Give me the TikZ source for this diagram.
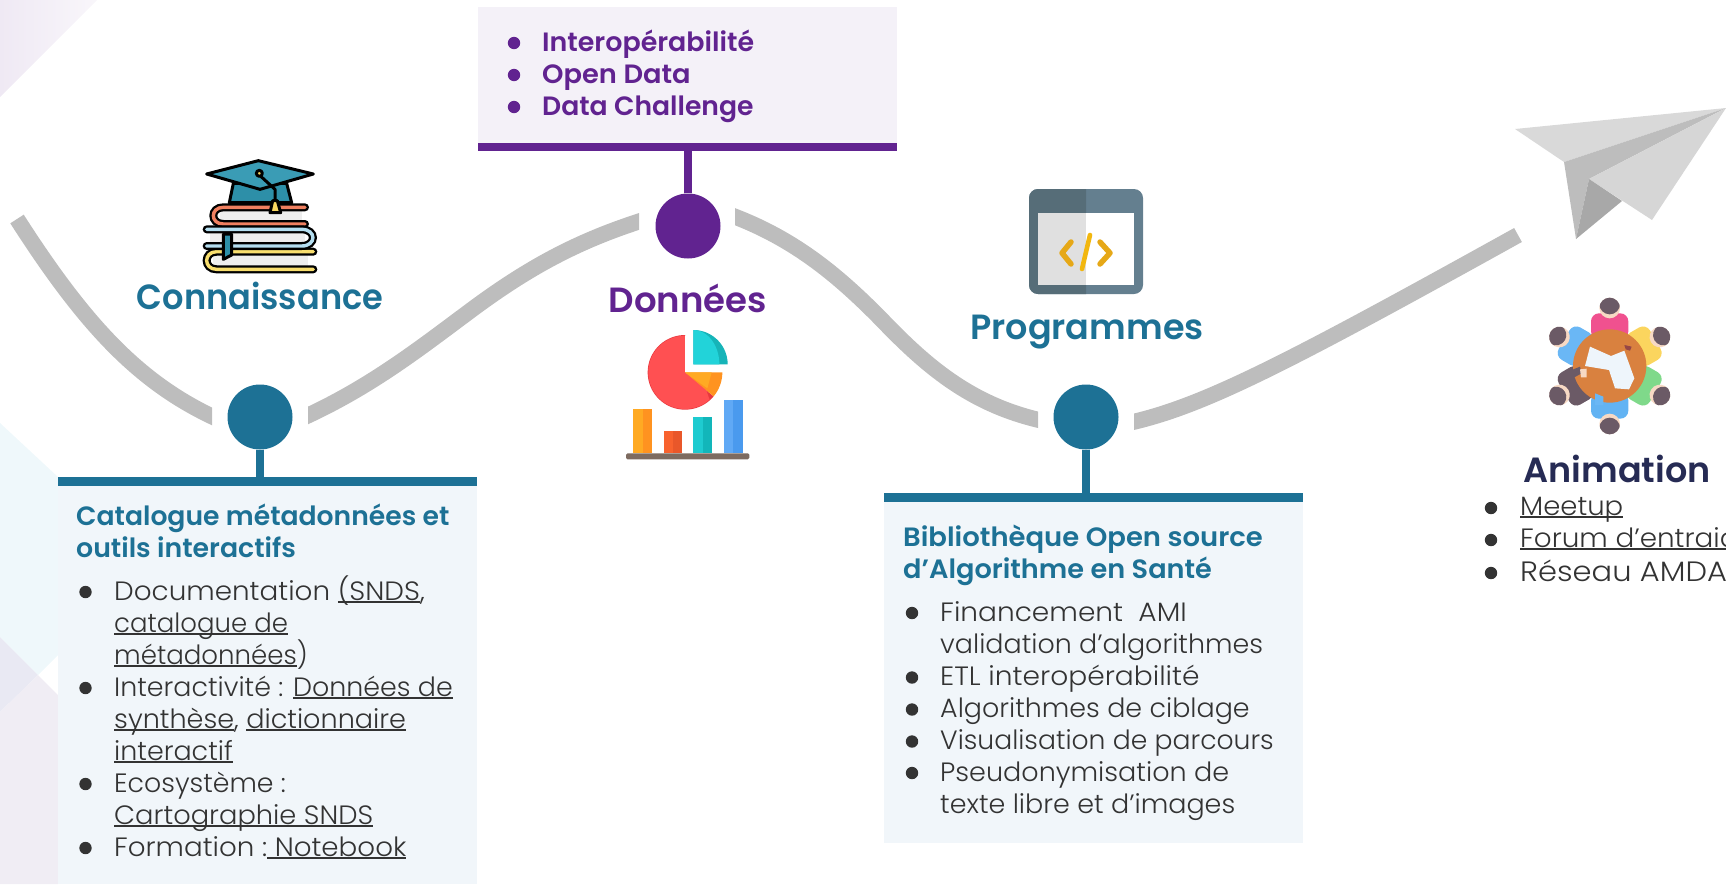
\documentclass[tikz,border=0pt]{standalone}
\usepackage{graphicx}
\usepackage{fontspec}
\setmainfont{Poppins Light}
\newfontfamily\fsemi{Poppins SemiBold}
\definecolor{teal1}{HTML}{1D7195}
\definecolor{purp}{HTML}{612390}
\definecolor{panelB}{HTML}{F1F6FA}
\definecolor{panelP}{HTML}{F4F1F8}
\definecolor{curve}{HTML}{BDBDBD}
\definecolor{txtd}{HTML}{333333}
\definecolor{navy}{HTML}{262B54}
\newcommand\ulk[1]{\setbox0\hbox{#1}\rlap{\raisebox{-3.4pt}{\rule{\wd0}{2.2pt}}}\box0 }
\newcommand\sx[2]{\scalebox{#1}[1]{#2}}
\newcommand\bt[2]{\fill[txtd] (#1,#2) circle (6.2);}
\tikzset{
 dot/.style={circle,fill=#1,minimum size=65,inner sep=0},
 stem/.style={line width=8,draw=#1},
 path1/.style={draw=curve,line width=16},
 body/.style={anchor=base west,inner sep=0,text=txtd,font=\fontsize{26.5}{32}\selectfont},
 subt/.style={anchor=base west,inner sep=0,text=teal1,font=\fontsize{26.5}{32}\fsemi},
 pbul/.style={anchor=base west,inner sep=0,text=purp,font=\fontsize{26.5}{32}\fsemi},
 head/.style={anchor=base,inner sep=0,font=\fontsize{35}{40}\fsemi},
 ol/.style={draw=black,line width=3,line join=round,line cap=round},
 bk/.style={line width=8,line cap=round,draw=black},
 bc/.style={line width=3.4,line cap=round}
}
\begin{document}
\begin{tikzpicture}[x=1pt,y=-1pt]
\useasboundingbox (0,0) rectangle (1726,884);
\clip (0,0) rectangle (1726,884);
% background shapes
\shade[left color=purp!10,right color=purp!4] (0,0) -- (97,0) -- (0,97) -- cycle;
\fill[fill={rgb,255:red,239;green,248;blue,251}] (0,423) -- (58,477) -- (58,655) -- (38,675) -- (0,637) -- cycle;
\fill[fill={rgb,255:red,233;green,233;blue,243}] (0,637) -- (38,675) -- (0,712) -- cycle;
\fill[fill={rgb,255:red,240;green,237;blue,244}] (0,712) -- (38,675) -- (58,695) -- (58,884) -- (0,884) -- cycle;
% panels
\fill[panelB] (58,485) rectangle (477,884);
\fill[teal1] (58,477) rectangle (477,486);
\fill[panelP] (478,7) rectangle (897,143);
\fill[purp] (478,143) rectangle (897,151);
\fill[panelB] (884,502) rectangle (1303,843);
\fill[teal1] (884,493) rectangle (1303,502);
% dots
\node[dot=teal1] (c1) at (260,417) {};
\node[dot=purp] (c2) at (688,226) {};
\node[dot=teal1] (c3) at (1086,417) {};
\coordinate (b1) at (260,477);
\coordinate (b2) at (688,151);
\coordinate (b3) at (1086,493);
\draw[stem=teal1] (c1) -- (b1);
\draw[stem=purp] (c2) -- (b2);
\draw[stem=teal1] (c3) -- (b3);
% curves
\coordinate (s1) at (17,219);
\coordinate (e1) at (222,421);
\begin{scope}
\clip (0,150) rectangle (212,450);
\draw[path1] (s1) .. controls (85,325) and (140,385) .. (e1);
\end{scope}
\coordinate (s2) at (298,420);
\coordinate (m2) at (474,308);
\coordinate (e2) at (650,218);
\begin{scope}
\clip (308,150) rectangle (639,450);
\draw[path1] (s2) .. controls (370,388) and (420,348) .. (m2) .. controls (535,263) and (585,238) .. (e2);
\end{scope}
\coordinate (s3) at (725,213);
\coordinate (m3) at (882,320);
\coordinate (e3) at (1048,422);
\begin{scope}
\clip (735,150) rectangle (1038,450);
\draw[path1] (s3) .. controls (790,236) and (835,272) .. (m3) .. controls (930,370) and (975,407) .. (e3);
\end{scope}
\coordinate (s4) at (1124,424);
\coordinate (e4) at (1518,235);
\begin{scope}
\clip (1134,150) rectangle (1600,450);
\draw[path1] (s4) .. controls (1200,408) and (1280,367) .. (e4);
\end{scope}
% headings
\node[head,text=teal1] (h1) at (260,309) {\sx{0.96}{Connaissance}};
\node[head,text=purp] (h2) at (688,312) {\sx{1.015}{Données}};
\node[head,text=teal1] (h3) at (1087,339) {Programmes};
\node[head,text=navy] (h4) at (1617,482) {Animation};
% panel 1
\node[subt] (a1) at (76,525) {\sx{1.005}{Catalogue métadonnées et}};
\node[subt] (a2) at (76,557) {\sx{1.01}{outils interactifs}};
\node[body] (l1) at (114,600) {\sx{1.05}{Documentation \ulk{(SNDS},}};
\node[body] (l2) at (114,632) {\sx{0.98}{\ulk{catalogue de}}};
\node[body] (l3) at (114,664) {\sx{0.983}{\ulk{métadonnées})}};
\node[body] (l4) at (114,696) {\sx{1.015}{Interactivité : \ulk{Données de}}};
\node[body] (l5) at (114,728) {\sx{1.022}{\ulk{synthèse}, \ulk{dictionnaire}}};
\node[body] (l6) at (114,760) {\sx{1.017}{\ulk{interactif}}};
\node[body] (l7) at (114,792) {\sx{1.012}{Ecosystème :}};
\node[body] (l8) at (114,824) {\sx{1.03}{\ulk{Cartographie SNDS}}};
\node[body] (l9) at (114,856) {\sx{1.047}{Formation :\ulk{\ Notebook}}};
\bt{85.5}{592}\bt{85.5}{688}\bt{85.5}{784}\bt{85.5}{848}
% panel 2
\node[pbul] (d1) at (542,51) {\sx{1.015}{Interopérabilité}};
\node[pbul] (d2) at (542,83) {\sx{1.03}{Open Data}};
\node[pbul] (d3) at (542,115) {\sx{1.005}{Data Challenge}};
\foreach \y in {43,75,107}{\fill[purp] (514,\y) circle (6.2);}
% panel 3
\node[subt] (p1) at (903,546) {\sx{1.036}{Bibliothèque Open source}};
\node[subt] (p2) at (903,578) {\sx{1.025}{d’Algorithme en Santé}};
\node[body] (q1) at (940,621) {\sx{1.057}{Financement\ \ AMI}};
\node[body] (q2) at (940,653) {\sx{1.016}{validation d’algorithmes}};
\node[body] (q3) at (940,685) {\sx{1.06}{ETL interopérabilité}};
\node[body] (q4) at (940,717) {\sx{1.016}{Algorithmes de ciblage}};
\node[body] (q5) at (940,749) {\sx{1.005}{Visualisation de parcours}};
\node[body] (q6) at (940,781) {\sx{1.02}{Pseudonymisation de}};
\node[body] (q7) at (940,813) {\sx{1.018}{texte libre et d’images}};
\bt{912}{613}\bt{912}{677.5}\bt{912}{709.5}\bt{912}{741.5}\bt{912}{773}
% animation list
\node[body] (r1) at (1520,515) {\sx{1.037}{\ulk{Meetup}}};
\node[body] (r2) at (1520,547) {\sx{1.05}{\ulk{Forum d’entraide}}};
\node[body,font=\fontsize{28}{32}\selectfont] (r3) at (1520,581) {\sx{1.09}{Réseau AMDA}};
\bt{1491}{508}\bt{1491}{540}\bt{1491}{573}
% plane
\fill[fill={rgb,255:red,217;green,217;blue,217}] (1515,129) -- (1726,108) -- (1564,162) -- cycle;
\fill[fill={rgb,255:red,189;green,189;blue,189}] (1564,162) -- (1726,108) -- (1589,179) -- (1576,239) -- cycle;
\fill[fill={rgb,255:red,214;green,214;blue,214}] (1589,179) -- (1726,108) -- (1652,220) -- cycle;
\fill[fill={rgb,255:red,168;green,168;blue,168}] (1589,179) -- (1622,201) -- (1576,239) -- cycle;
% books + cap icon
\begin{scope}[shift={(190,150)},scale=1/3]
 \filldraw[ol,fill={rgb,255:red,45;green,143;blue,168}] (118,158) -- (130,100) -- (290,100) -- (305,158) -- cycle;
 \filldraw[ol,fill={rgb,255:red,58;green,156;blue,181}] (50,72) -- (205,32) -- (370,72) -- (210,118) -- cycle;
 \draw[ol] (208,75) -- (255,118) -- (255,155);
 \filldraw[ol,fill={rgb,255:red,247;green,214;blue,96}] (208,70) circle (9);
 % book 1
 \fill[fill={rgb,255:red,238;green,238;blue,238}] (90,180) rectangle (335,218);
 \draw[bk] (345,172) -- (100,172) .. controls (60,172) and (60,222) .. (100,222) -- (345,222);
 \draw[bc,draw={rgb,255:red,240;green,128;blue,96}] (345,172) -- (100,172) .. controls (60,172) and (60,222) .. (100,222) -- (345,222);
 % book 3
 \fill[fill={rgb,255:red,238;green,238;blue,238}] (70,312) rectangle (355,350);
 \draw[bk] (370,305) -- (80,305) .. controls (40,305) and (40,358) .. (80,358) -- (370,358);
 \draw[bc,draw={rgb,255:red,248;green,222;blue,110}] (370,305) -- (80,305) .. controls (40,305) and (40,358) .. (80,358) -- (370,358);
 % book 2
 \fill[fill={rgb,255:red,238;green,238;blue,238}] (60,245) rectangle (345,282);
 \draw[bk] (50,238) -- (335,238) .. controls (380,238) and (380,288) .. (335,288) -- (50,288);
 \draw[bc,draw={rgb,255:red,180;green,222;blue,240}] (50,238) -- (335,238) .. controls (380,238) and (380,288) .. (335,288) -- (50,288);
 \filldraw[ol,fill={rgb,255:red,45;green,143;blue,168}] (100,252) -- (125,252) -- (125,315) -- (100,328) -- cycle;
 \filldraw[ol,fill={rgb,255:red,247;green,214;blue,96}] (248,152) -- (262,152) -- (272,188) -- (240,188) -- cycle;
\end{scope}
% pie + bars icon
\begin{scope}[shift={(620,320)},scale=1/3]
 \fill[fill={rgb,255:red,232;green,56;blue,63}] (195,157) -- plot[domain=-90:-320,samples=50] ({195+112*cos(\x)},{157+112*sin(\x)}) -- cycle;
 \fill[fill={rgb,255:red,255;green,80;blue,82}] (195,157) -- plot[domain=-90:-312,samples=50] ({195+110*cos(\x)},{157+110*sin(\x)}) -- (258,208) -- cycle;
 \fill[fill={rgb,255:red,255;green,147;blue,32}] (195,157) -- plot[domain=0:40,samples=15] ({195+112*cos(\x)},{157+112*sin(\x)}) -- cycle;
 \fill[fill={rgb,255:red,255;green,170;blue,35}] (195,157) -- (275,157) -- (262,205) -- cycle;
 \fill[fill=white] (195,47) rectangle (220,157);
 \fill[fill=white] (195,133) rectangle (330,157);
 \fill[fill={rgb,255:red,22;green,180;blue,184}] (220,133) -- plot[domain=-90:0,samples=30] ({220+103*cos(\x)},{133+103*sin(\x)}) -- cycle;
 \fill[fill={rgb,255:red,34;green,211;blue,217}] (220,133) -- plot[domain=-90:0,samples=30] ({220+78*cos(\x)},{133+103*sin(\x)}) -- cycle;
 \fill[fill={rgb,255:red,255;green,147;blue,32}] (40,267) rectangle (97,400);
 \fill[fill={rgb,255:red,255;green,170;blue,35}] (40,267) rectangle (68,400);
 \fill[fill={rgb,255:red,233;green,87;blue,42}] (131,332) rectangle (187,400);
 \fill[fill={rgb,255:red,248;green,98;blue,46}] (131,332) rectangle (159,400);
 \fill[fill={rgb,255:red,18;green,182;blue,186}] (220,292) rectangle (277,400);
 \fill[fill={rgb,255:red,30;green,203;blue,208}] (220,292) rectangle (248,400);
 \fill[fill={rgb,255:red,74;green,154;blue,238}] (311,241) rectangle (368,400);
 \fill[fill={rgb,255:red,96;green,169;blue,245}] (311,241) rectangle (339,400);
 \fill[rounded corners=1.5,fill={rgb,255:red,125;green,107;blue,96}] (18,400) rectangle (388,418);
\end{scope}
% code window icon
\fill[rounded corners=9,fill={rgb,255:red,100;green,127;blue,143}] (1029,189) rectangle (1143,294);
\begin{scope}
\clip (1029,189) rectangle (1086,294);
\fill[rounded corners=9,fill={rgb,255:red,86;green,109;blue,120}] (1029,189) rectangle (1143,294);
\end{scope}
\fill[fill=white] (1086,213) rectangle (1134,285);
\fill[fill={rgb,255:red,224;green,224;blue,224}] (1038,213) rectangle (1086,285);
\draw[line width=5.5,line cap=round,line join=round,draw={rgb,255:red,230;green,168;blue,23}] (1071,242) -- (1062,253) -- (1071,264);
\draw[line width=4.6,line cap=round,line join=round,draw={rgb,255:red,242;green,183;blue,15}] (1090,235) -- (1082,269);
\draw[line width=5.5,line cap=round,line join=round,draw={rgb,255:red,230;green,168;blue,23}] (1100,242) -- (1110,253) -- (1100,264);
% people icon
\begin{scope}[shift={(1535,290)},scale=1/3]
 \foreach \a/\R/\G/\B in {0/240/81/143,-60/251/213/94,-120/127/217/138,180/98/179/243,120/107/90/102,60/106/183/245}{
  \begin{scope}[shift={(224,228)},rotate=\a]
   \fill[rounded corners=8,fill={rgb,255:red,\R;green,\G;blue,\B}] (-56,-158) rectangle (56,-80);
   \fill[fill={rgb,255:red,247;green,217;blue,196}] (0,-174) circle (31);
   \begin{scope}
    \clip (0,-174) circle (31);
    \fill[fill={rgb,255:red,107;green,90;blue,102}] (0,-186) circle (31);
   \end{scope}
  \end{scope}
 }
 \fill[fill={rgb,255:red,217;green,129;blue,63}] (224,228) circle (110);
 \fill[fill={rgb,255:red,238;green,245;blue,251}] (165,170) -- (228,198) -- (268,182) -- (298,265) -- (282,298) -- (240,295) -- (222,240) -- (150,228) -- cycle;
 \fill[fill={rgb,255:red,107;green,90;blue,102}] (110,240) -- (135,230) -- (140,250) -- (118,262) -- cycle;
 \fill[fill={rgb,255:red,247;green,217;blue,196}] (135,238) -- (155,236) -- (155,262) -- (138,262) -- cycle;
 \fill[fill={rgb,255:red,150;green,70;blue,70}] (268,165) -- (290,170) -- (285,182) -- (272,178) -- cycle;
 \fill[fill={rgb,255:red,106;green,183;blue,245}] (180,310) -- (205,320) -- (205,345) -- (180,345) -- cycle;
\end{scope}
\end{tikzpicture}
\end{document}
